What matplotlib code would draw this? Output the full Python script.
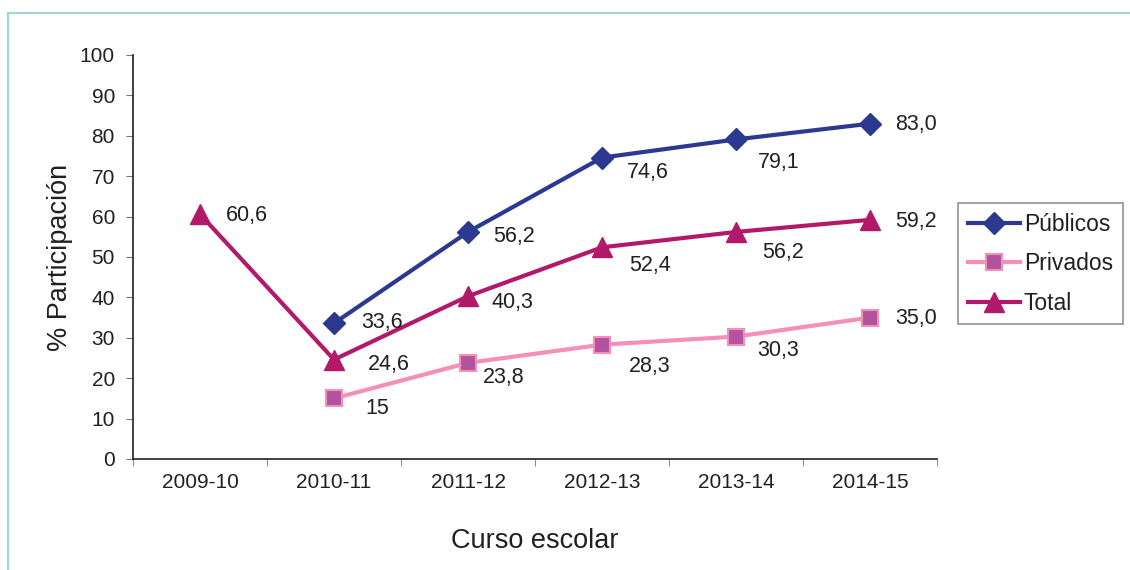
import matplotlib

matplotlib.use("Agg")

import matplotlib.pyplot as plt
from matplotlib.lines import Line2D

plt.rcParams["font.family"] = ["Liberation Sans", "DejaVu Sans"]

TEXT = "#231F20"
NAVY = "#2B3990"
PINK = "#F48FB7"
PURPLE = "#B3529E"
CRIMSON = "#B3196A"
TEAL = "#9ADAD2"

cursos = ["2009-10", "2010-11", "2011-12", "2012-13", "2013-14", "2014-15"]
publicos = [None, 33.6, 56.2, 74.6, 79.1, 83.0]
privados = [None, 15, 23.8, 28.3, 30.3, 35.0]
total = [60.6, 24.6, 40.3, 52.4, 56.2, 59.2]
publicos_txt = ["", "33,6", "56,2", "74,6", "79,1", "83,0"]
privados_txt = ["", "15", "23,8", "28,3", "30,3", "35,0"]
total_txt = ["60,6", "24,6", "40,3", "52,4", "56,2", "59,2"]

# label offsets from the point, in pixels (x right, y down)
publicos_off = [None, (27, -1), (25, 5), (25, 15), (22, 23), (25, 1)]
privados_off = [None, (31, 10), (15, 15), (27, 22), (21, 14), (25, 1)]
total_off = [(26, 1), (34, 5), (24, 6), (27, 18), (26, 21), (25, 2)]

fig = plt.figure(figsize=(11.3, 5.7), dpi=100)
ax = fig.add_axes([133 / 1130, 111 / 570, 804 / 1130, 404 / 570])

x = list(range(len(cursos)))


def _series(values, labels, offsets, **style):
    xs = [i for i, v in zip(x, values) if v is not None]
    ys = [v for v in values if v is not None]
    line, = ax.plot(xs, ys, **style)
    for i, v, lab, off in zip(x, values, labels, offsets):
        if v is None:
            continue
        ax.annotate(lab, (i, v), xytext=(off[0] * 0.72, -off[1] * 0.72),
                    textcoords="offset points", ha="left", va="center",
                    fontsize=15.5, color=TEXT)
    return line


l1 = _series(publicos, publicos_txt, publicos_off, color=NAVY, lw=3,
             marker="D", ms=11, mfc=NAVY, mec=NAVY, label="Públicos")
l2 = _series(privados, privados_txt, privados_off, color=PINK, lw=3,
             marker="s", ms=11.5, mfc=PURPLE, mec=PINK, mew=1.5, label="Privados")
l3 = _series(total, total_txt, total_off, color=CRIMSON, lw=3,
             marker="^", ms=14, mfc=CRIMSON, mec=CRIMSON, label="Total")

ax.set_xlim(-0.5, len(cursos) - 0.5)
ax.set_ylim(0, 100)
ax.set_yticks(range(0, 101, 10))
ax.set_xticks(x)
ax.set_xticklabels(cursos)
ax.set_xticks([i - 0.5 for i in range(len(cursos) + 1)], minor=True)
ax.tick_params(axis="x", which="major", length=0, pad=10, labelsize=15, colors=TEXT)
ax.tick_params(axis="x", which="minor", length=5, color="#777777", direction="out")
ax.tick_params(axis="y", length=5, color="#777777", pad=8, labelsize=15, labelcolor=TEXT)
for side in ("top", "right"):
    ax.spines[side].set_visible(False)
for side in ("left", "bottom"):
    ax.spines[side].set_color(TEXT)
    ax.spines[side].set_linewidth(1.2)

ax.set_xlabel("Curso escolar", fontsize=19.5, color=TEXT, labelpad=26)
ax.set_ylabel("% Participación", fontsize=19.5, color=TEXT, labelpad=5)

leg = fig.legend(handles=[l1, l2, l3], loc="upper left",
                 bbox_to_anchor=(958 / 1130, 1 - 203 / 570),
                 fontsize=16.5, frameon=True, fancybox=False, handlelength=2.3,
                 handletextpad=0.15, labelspacing=0.72, borderpad=0.42,
                 borderaxespad=0, markerscale=1.0)
leg.get_frame().set_edgecolor("#777777")
leg.get_frame().set_linewidth(1.2)
for t in leg.get_texts():
    t.set_color(TEXT)

# light teal frame (only top and left edges fall inside the image)
fig.add_artist(Line2D([8 / 1130, 8 / 1130], [0, 1 - 13 / 570], color=TEAL, lw=1.5))
fig.add_artist(Line2D([8 / 1130, 1], [1 - 13 / 570, 1 - 13 / 570], color=TEAL, lw=1.5))

fig.savefig("out.png", dpi=100)
